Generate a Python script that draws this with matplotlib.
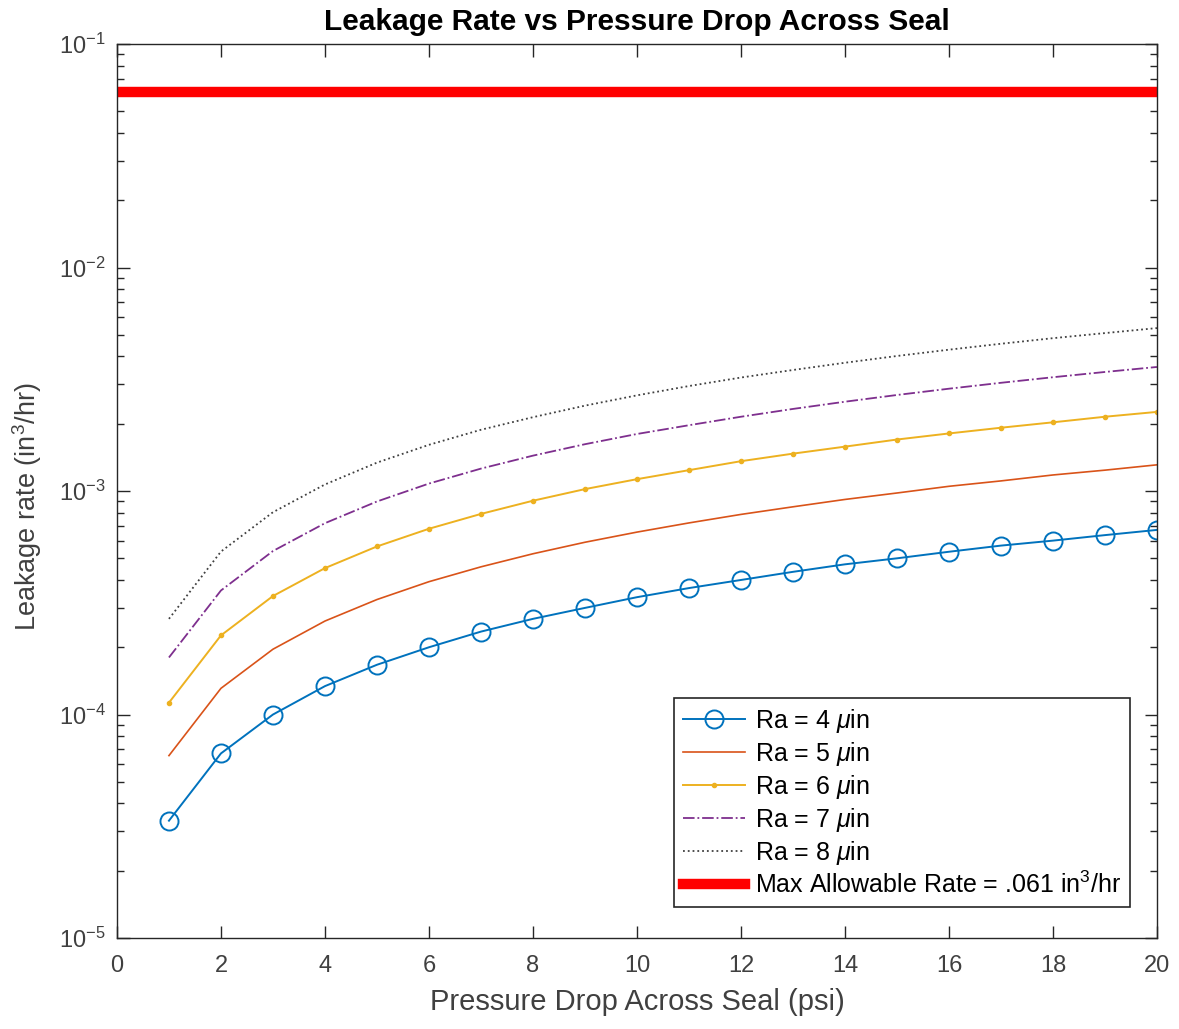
import matplotlib

matplotlib.use("Agg")

import matplotlib.pyplot as plt
from matplotlib.ticker import LogLocator, NullFormatter

plt.rcParams["font.family"] = ["Liberation Sans", "DejaVu Sans"]
plt.rcParams["mathtext.fontset"] = "custom"
plt.rcParams["mathtext.rm"] = "Liberation Sans"
plt.rcParams["mathtext.it"] = "Liberation Sans:italic"

# pressure drop (psi)
pressure = [1, 2, 3, 4, 5, 6, 7, 8, 9, 10, 11, 12, 13, 14, 15, 16, 17, 18, 19, 20]

# leakage rate (in^3/hr)
ra4 = [3.35e-5, 6.7e-5, 1.0e-4, 1.34e-4, 1.67e-4, 2.0e-4, 2.35e-4, 2.68e-4, 3.0e-4, 3.35e-4,
       3.68e-4, 4.0e-4, 4.35e-4, 4.7e-4, 5.0e-4, 5.35e-4, 5.7e-4, 6.0e-4, 6.35e-4, 6.7e-4]
ra5 = [6.55e-5, 1.31e-4, 1.96e-4, 2.62e-4, 3.27e-4, 3.93e-4, 4.58e-4, 5.24e-4, 5.9e-4, 6.55e-4,
       7.2e-4, 7.86e-4, 8.5e-4, 9.17e-4, 9.8e-4, 1.05e-3, 1.11e-3, 1.18e-3, 1.24e-3, 1.31e-3]
ra6 = [1.13e-4, 2.26e-4, 3.39e-4, 4.52e-4, 5.65e-4, 6.78e-4, 7.9e-4, 9.05e-4, 1.02e-3, 1.13e-3,
       1.24e-3, 1.36e-3, 1.47e-3, 1.58e-3, 1.7e-3, 1.81e-3, 1.92e-3, 2.03e-3, 2.15e-3, 2.26e-3]
ra7 = [1.8e-4, 3.59e-4, 5.39e-4, 7.18e-4, 8.98e-4, 1.08e-3, 1.26e-3, 1.44e-3, 1.62e-3, 1.8e-3,
       1.97e-3, 2.15e-3, 2.33e-3, 2.51e-3, 2.69e-3, 2.87e-3, 3.05e-3, 3.23e-3, 3.41e-3, 3.59e-3]
ra8 = [2.68e-4, 5.36e-4, 8.04e-4, 1.07e-3, 1.34e-3, 1.61e-3, 1.88e-3, 2.14e-3, 2.41e-3, 2.68e-3,
       2.95e-3, 3.22e-3, 3.48e-3, 3.75e-3, 4.02e-3, 4.29e-3, 4.56e-3, 4.83e-3, 5.09e-3, 5.36e-3]

max_rate_x = [0, 20]
max_rate = [0.061, 0.061]

AXIS_COLOR = "#262626"
LABEL_COLOR = "#404040"

fig = plt.figure(figsize=(11.79, 10.29), dpi=100)
ax = fig.add_axes([0.0992, 0.0884, 0.8821, 0.8688])

ax.semilogy(pressure, ra4, color="#0072BD", marker="o", markersize=13, markerfacecolor="none",
            markeredgewidth=1.4, linewidth=1.4, label=r"Ra = 4 $\mu$in")
ax.semilogy(pressure, ra5, color="#D95319", linewidth=1.2, label=r"Ra = 5 $\mu$in")
ax.semilogy(pressure, ra6, color="#EDB120", marker=".", markersize=6, linewidth=1.4,
            label=r"Ra = 6 $\mu$in")
ax.semilogy(pressure, ra7, color="#7E2F8E", linestyle="-.", linewidth=1.3,
            label=r"Ra = 7 $\mu$in")
ax.semilogy(pressure, ra8, color="#404040", linestyle=":", linewidth=1.3,
            label=r"Ra = 8 $\mu$in")
ax.semilogy(max_rate_x, max_rate, color="red", linewidth=7.5,
            label=r"Max Allowable Rate = .061 in$^3$/hr")

ax.set_xlim(0, 20)
ax.set_ylim(1e-5, 1e-1)
ax.set_xticks(range(0, 21, 2))
ax.yaxis.set_major_locator(LogLocator(base=10, numticks=10))
ax.yaxis.set_minor_locator(LogLocator(base=10, subs=range(2, 10), numticks=10))
ax.yaxis.set_minor_formatter(NullFormatter())

ax.tick_params(which="both", direction="in", top=True, right=True, colors=AXIS_COLOR,
               labelsize=17, labelcolor=LABEL_COLOR)
ax.tick_params(which="major", length=9, width=1.0)
ax.tick_params(which="minor", length=5, width=1.0)
ax.tick_params(axis="x", pad=12)
ax.tick_params(axis="y", pad=8)
for spine in ax.spines.values():
    spine.set_color(AXIS_COLOR)
    spine.set_linewidth(1.0)

ax.set_title("Leakage Rate vs Pressure Drop Across Seal", fontsize=21.5, fontweight="bold", pad=10)
ax.set_xlabel("Pressure Drop Across Seal (psi)", fontsize=21, color=LABEL_COLOR, labelpad=8)
ax.set_ylabel(r"Leakage rate (in$^3$/hr)", fontsize=19.5, color=LABEL_COLOR)
ax.yaxis.set_label_coords(-0.07, 0.482)

legend = ax.legend(loc="lower right", bbox_to_anchor=(0.974, 0.035), borderaxespad=0,
                   fontsize=18, handlelength=2.5, handletextpad=0.4, borderpad=0.35,
                   labelspacing=0.2, fancybox=False, framealpha=1, edgecolor=AXIS_COLOR)
legend.get_frame().set_linewidth(1.2)

fig.savefig("out.png", dpi=100, facecolor="white")
